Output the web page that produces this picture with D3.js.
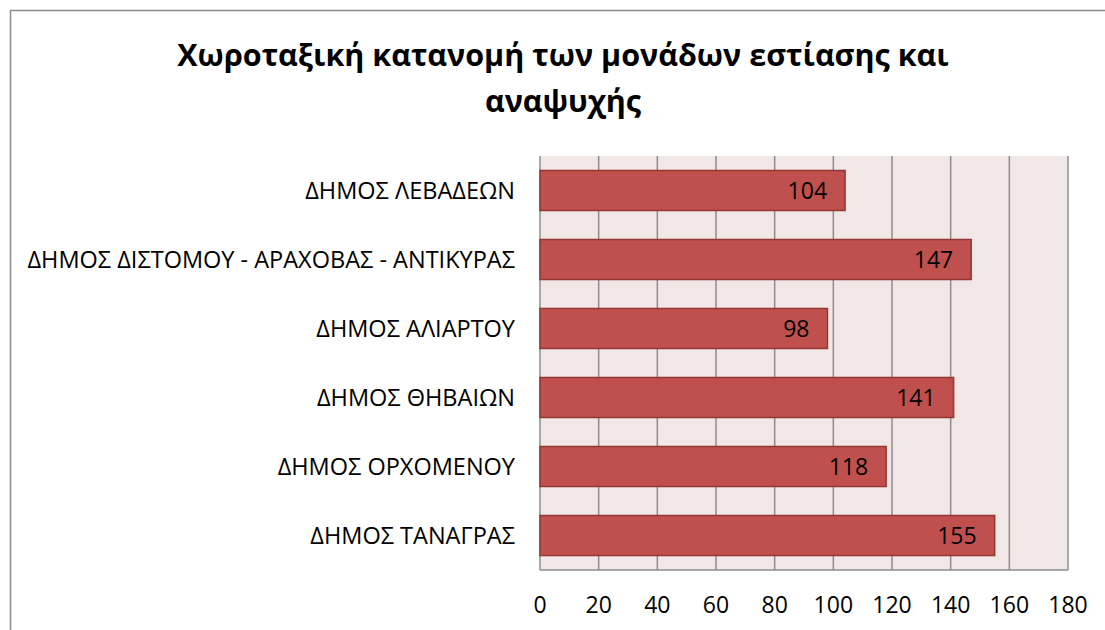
<!DOCTYPE html>
<html>
<head>
<meta charset="utf-8">
<script src="https://cdn.jsdelivr.net/npm/d3@7"></script>
<style>
  body { margin: 0; background: #fff; }
  text { font-family: "Open Sans", "Noto Sans", sans-serif; }
</style>
</head>
<body>
<script>
// chart data
const categories = [
  "ΔΗΜΟΣ ΛΕΒΑΔΕΩΝ",
  "ΔΗΜΟΣ ΔΙΣΤΟΜΟΥ - ΑΡΑΧΟΒΑΣ - ΑΝΤΙΚΥΡΑΣ",
  "ΔΗΜΟΣ ΑΛΙΑΡΤΟΥ",
  "ΔΗΜΟΣ ΘΗΒΑΙΩΝ",
  "ΔΗΜΟΣ ΟΡΧΟΜΕΝΟΥ",
  "ΔΗΜΟΣ ΤΑΝΑΓΡΑΣ"
];
const values = [104, 147, 98, 141, 118, 155];
const xTicks = [0, 20, 40, 60, 80, 100, 120, 140, 160, 180];
const titleLines = ["Χωροταξική κατανομή των μονάδων εστίασης και", "αναψυχής"];

const width = 1105, height = 630;
const plot = { left: 540, right: 1068, top: 156, bottom: 570 };

const svg = d3.select("body")
    .append("svg")
    .attr("width", width)
    .attr("height", height);

// outer chart border
svg.append("rect")
    .attr("x", 10.5).attr("y", 10.5)
    .attr("width", 1110).attr("height", 640)
    .attr("fill", "none")
    .attr("stroke", "#8c8c8c")
    .attr("stroke-width", 1.5);

// title
svg.append("text")
    .attr("text-anchor", "middle")
    .attr("font-weight", "bold")
    .attr("font-size", 30.5)
    .attr("fill", "#000")
    .selectAll("tspan")
    .data(titleLines)
    .join("tspan")
    .attr("x", 563)
    .attr("y", (d, i) => 66 + i * 46)
    .text(d => d);

const x = d3.scaleLinear()
    .domain([0, 180])
    .range([plot.left, plot.right]);

const y = d3.scaleBand()
    .domain(categories)
    .range([plot.top, plot.bottom])
    .paddingInner(0.42)
    .paddingOuter(0.21);

// plot background
svg.append("rect")
    .attr("x", plot.left).attr("y", plot.top)
    .attr("width", plot.right - plot.left)
    .attr("height", plot.bottom - plot.top)
    .attr("fill", "#f2e7e7");

// vertical gridlines
svg.append("g")
    .selectAll("line")
    .data(xTicks)
    .join("line")
    .attr("x1", d => x(d)).attr("x2", d => x(d))
    .attr("y1", plot.top).attr("y2", plot.bottom)
    .attr("stroke", "#8c8c8c")
    .attr("stroke-width", 1.5);

// bottom axis line
svg.append("line")
    .attr("x1", plot.left).attr("x2", plot.right)
    .attr("y1", plot.bottom).attr("y2", plot.bottom)
    .attr("stroke", "#8c8c8c")
    .attr("stroke-width", 1.5);

// bars
svg.append("g")
    .selectAll("rect")
    .data(values)
    .join("rect")
    .attr("x", x(0))
    .attr("y", (d, i) => y(categories[i]))
    .attr("width", d => x(d) - x(0))
    .attr("height", y.bandwidth())
    .attr("fill", "#c0504d")
    .attr("stroke", "#943634")
    .attr("stroke-width", 1.5);

// value labels inside end
svg.append("g")
    .selectAll("text")
    .data(values)
    .join("text")
    .attr("x", d => x(d) - 18)
    .attr("y", (d, i) => y(categories[i]) + y.bandwidth() / 2)
    .attr("dy", "0.36em")
    .attr("text-anchor", "end")
    .attr("font-size", 23)
    .attr("fill", "#000")
    .text(d => d);

// x tick labels
svg.append("g")
    .selectAll("text")
    .data(xTicks)
    .join("text")
    .attr("x", d => x(d))
    .attr("y", 613)
    .attr("text-anchor", "middle")
    .attr("font-size", 23)
    .attr("fill", "#000")
    .text(d => d);

// category labels
svg.append("g")
    .selectAll("text")
    .data(categories)
    .join("text")
    .attr("x", 515)
    .attr("y", d => y(d) + y.bandwidth() / 2)
    .attr("dy", "0.36em")
    .attr("text-anchor", "end")
    .attr("font-size", 23.5)
    .attr("fill", "#000")
    .text(d => d);
</script>
</body>
</html>
